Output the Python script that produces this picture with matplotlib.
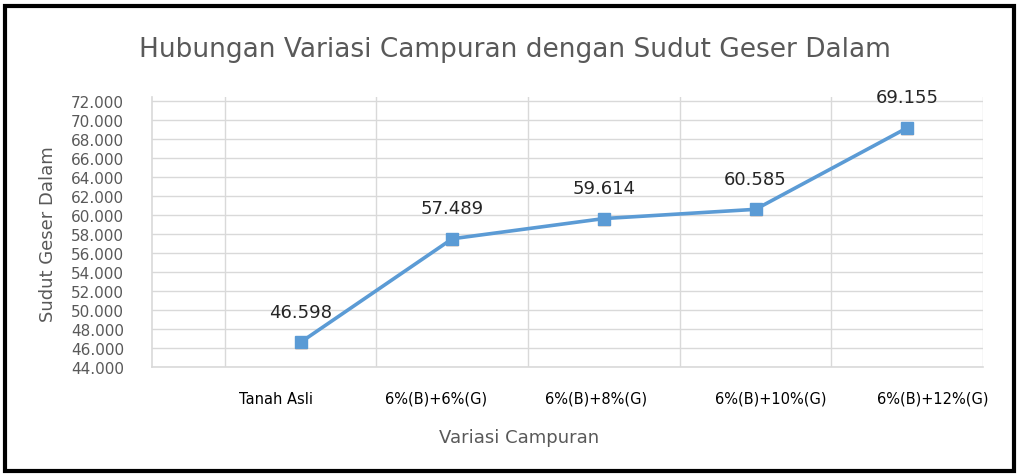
import matplotlib.pyplot as plt
from matplotlib.patches import Rectangle
import numpy as np

# data
categories = ["Tanah Asli", "6%(B)+6%(G)", "6%(B)+8%(G)", "6%(B)+10%(G)", "6%(B)+12%(G)"]
sudut = [46.598, 57.489, 59.614, 60.585, 69.155]
y_ticks = np.arange(44, 73, 2)

W, H = 1019, 477
fig = plt.figure(figsize=(W / 100, H / 100), dpi=100)
grey = "#595959"
blue = "#5B9BD5"

# axes box in pixel coords -> figure fraction
left, right, top, bottom = 152, 983, 98, 368
ax = fig.add_axes([left / W, 1 - bottom / H, (right - left) / W, (bottom - top) / H])

x = np.arange(len(categories))
ax.plot(x, sudut, color=blue, lw=2.6, zorder=3)
ax.plot(x, sudut, ls="none", marker="^", ms=9, color="#ED7D31", zorder=4)
ax.plot(x, sudut, ls="none", marker="s", ms=8, color=blue, zorder=5)

for xi, v in zip(x, sudut):
    ax.annotate(f"{v:.3f}", (xi, v), xytext=(0, 22), textcoords="offset points",
                ha="center", va="center", fontsize=13, color="#262626")

ax.set_xlim(-0.98, 4.5)
ax.set_ylim(44, 72.4)
ax.set_yticks(y_ticks)
ax.set_yticklabels([f"{v:.3f}" for v in y_ticks], fontsize=11, color=grey)

# category label positions are slightly off-centre in the original
label_shift = [-0.16, -0.11, -0.05, 0.10, 0.17]
ax.set_xticks(x + np.array(label_shift))
ax.set_xticklabels(categories, fontsize=10.5, color="black")
ax.tick_params(axis="both", length=0)
ax.tick_params(axis="x", pad=17)
ax.tick_params(axis="y", pad=20)

# gridlines
for yv in y_ticks:
    ax.axhline(yv, color="#D9D9D9", lw=1, zorder=1)
for xv in np.arange(-0.5, 4.6, 1.0):
    ax.axvline(xv, color="#D9D9D9", lw=1, zorder=1)

for s in ["top", "right"]:
    ax.spines[s].set_visible(False)
for s in ["left", "bottom"]:
    ax.spines[s].set_color("#D9D9D9")
    ax.spines[s].set_linewidth(1.2)

fig.text(515 / W, 1 - 50 / H, "Hubungan Variasi Campuran dengan Sudut Geser Dalam",
         ha="center", va="center", fontsize=19, color=grey)
fig.text(519 / W, 1 - 438 / H, "Variasi Campuran", ha="center", va="center",
         fontsize=13, color=grey)
fig.text(48 / W, 1 - 234 / H, "Sudut Geser Dalam", ha="center", va="center",
         rotation=90, fontsize=13, color=grey)

# black frame around the chart
fig.patches.append(Rectangle((5 / W, 5 / H), 1 - 10 / W, 1 - 12 / H, transform=fig.transFigure,
                             fill=False, edgecolor="black", lw=3))

fig.savefig("out.png", dpi=100)
